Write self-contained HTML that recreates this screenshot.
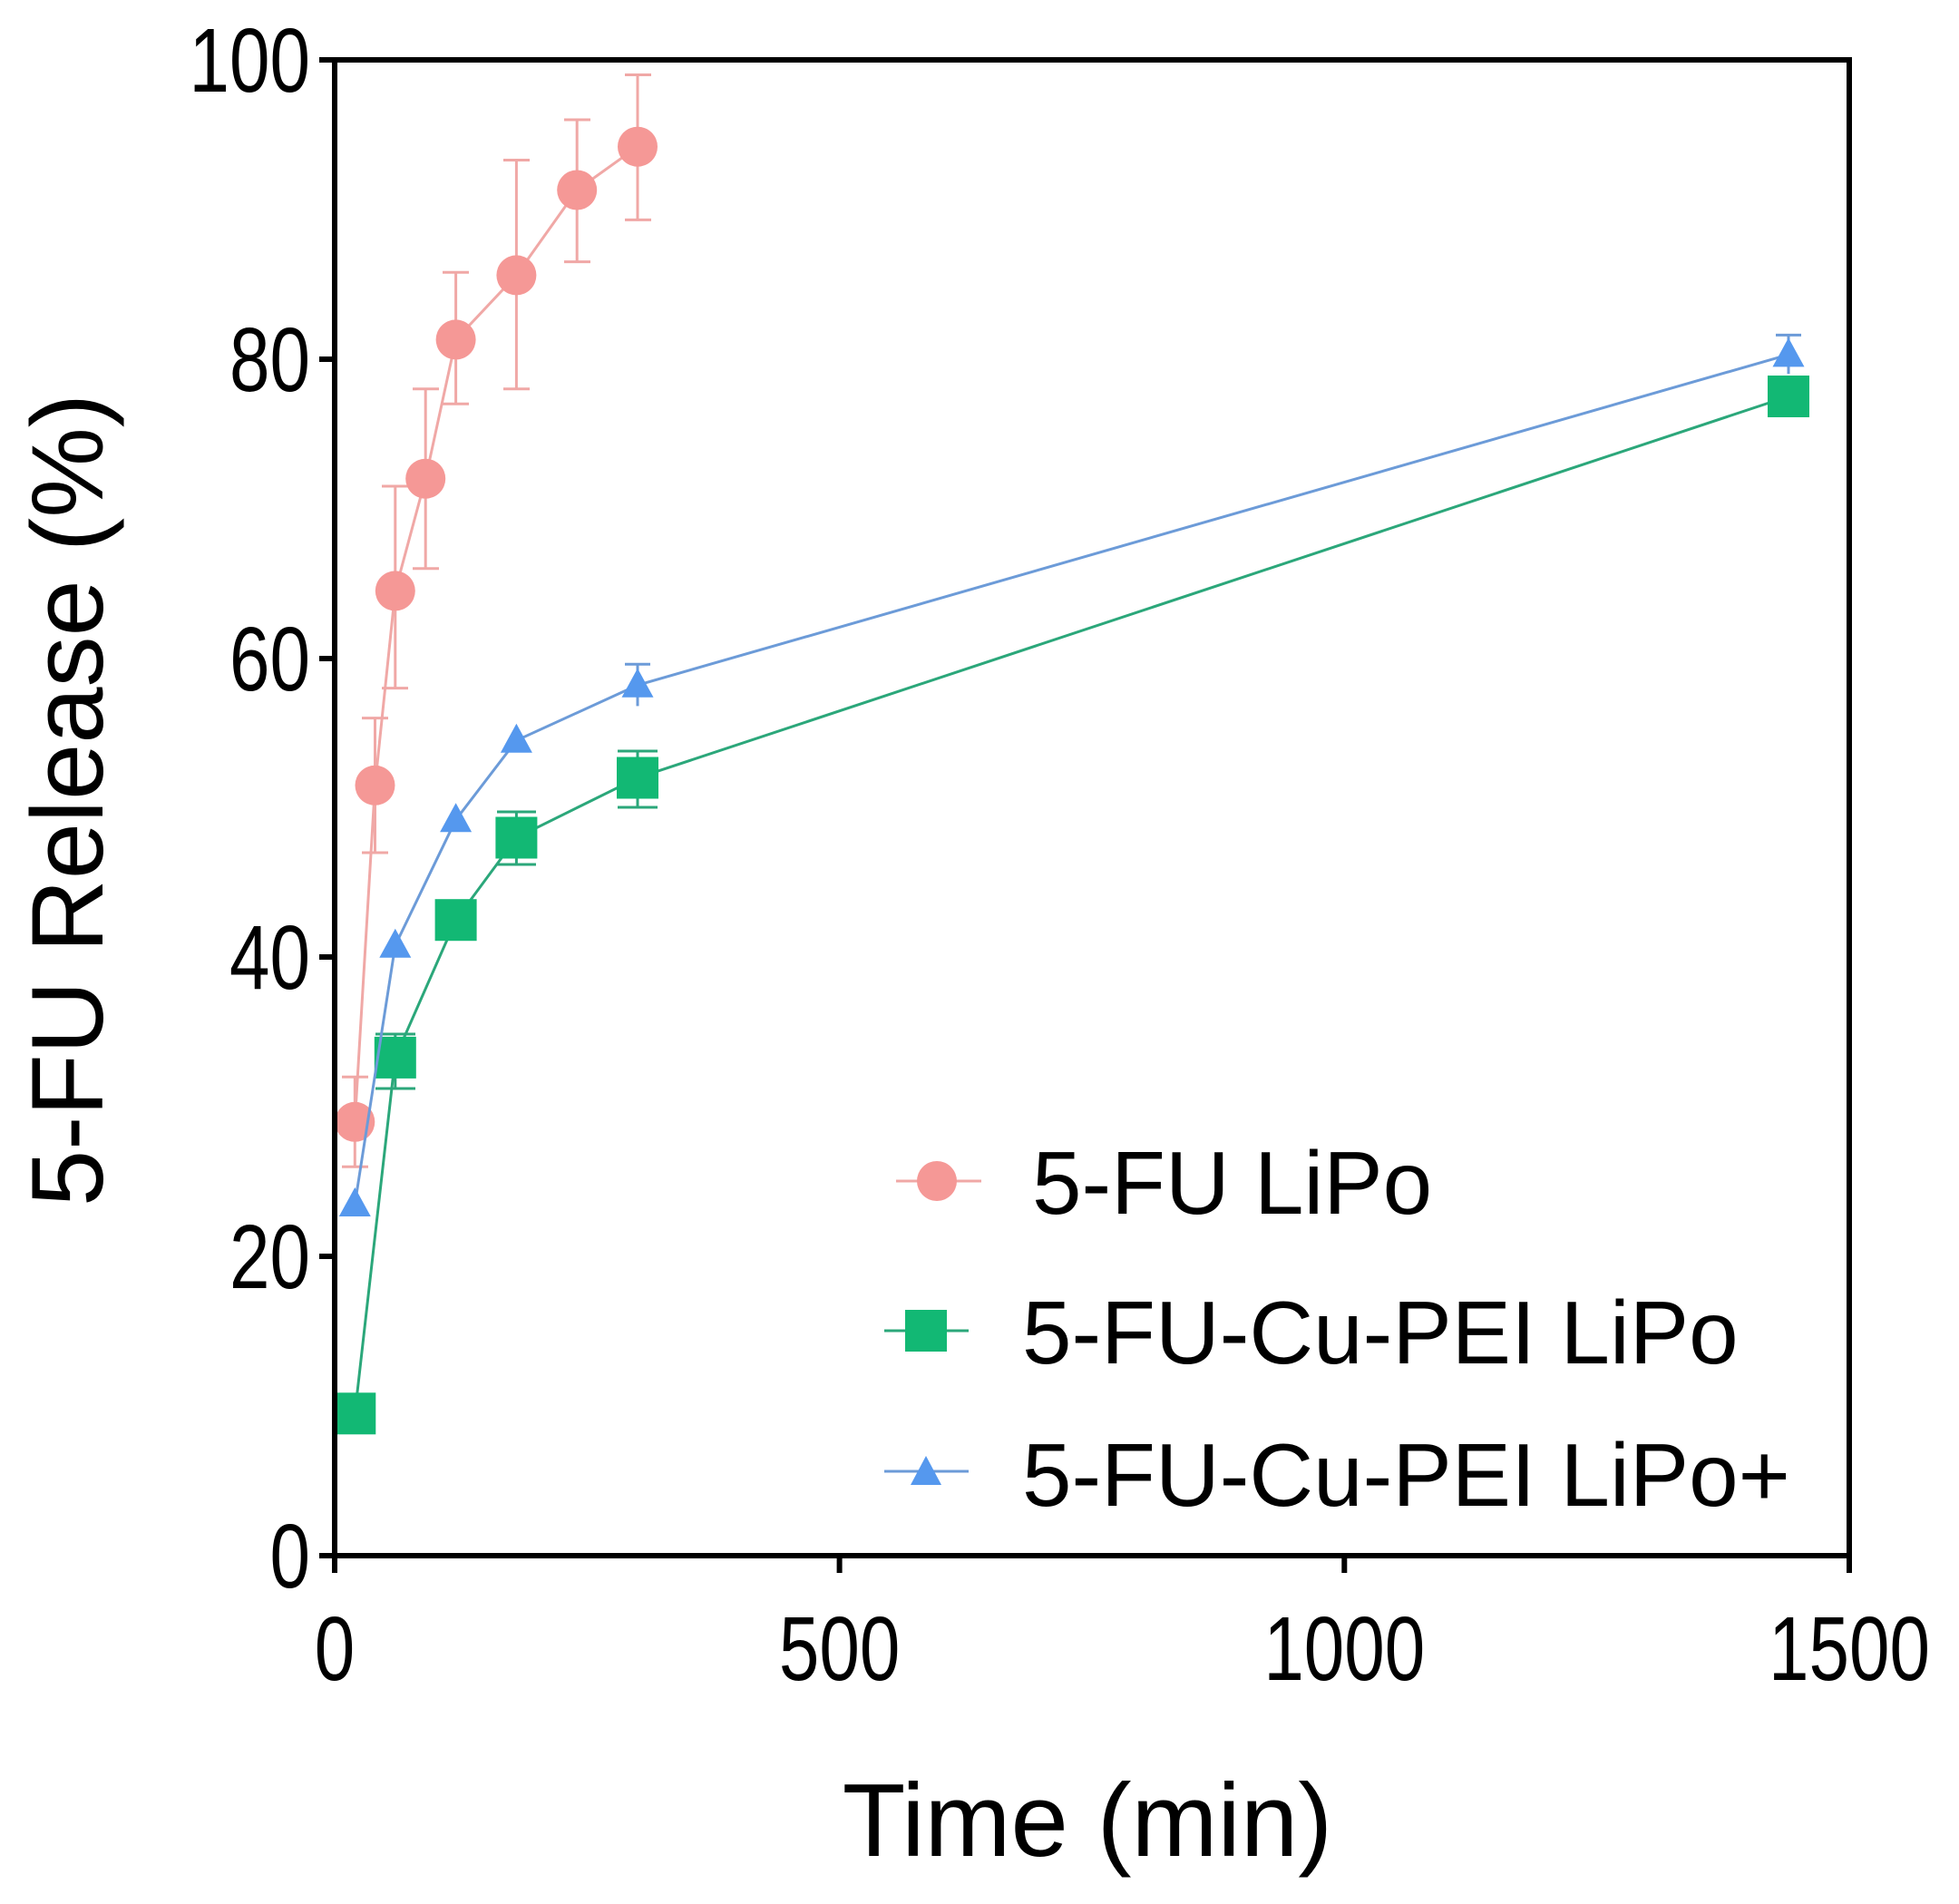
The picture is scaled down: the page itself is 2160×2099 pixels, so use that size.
<!DOCTYPE html>
<html><head><meta charset="utf-8"><style>
html,body{margin:0;padding:0;background:#fff}
svg{display:block}
text{font-family:"Liberation Sans",Arial,sans-serif;fill:#000}
</style></head><body>
<svg width="2160" height="2099" viewBox="0 0 2160 2099" xmlns="http://www.w3.org/2000/svg">
<!-- pink series -->
<g stroke="#F0A8A6" stroke-width="3" fill="none">
<polyline points="391.3,1236.8 413.5,865.8 435.8,651.4 469.2,527.7 502.6,374.4 569.4,303.4 636.2,209.5 703,161.7"/>
<path d="M391.3,1286.3V1187.3M377,1286.3H406M377,1187.3H406
M413.5,940V791.6M399,940H428M399,791.6H428
M435.8,758.6V536M421,758.6H450M421,536H450
M469.2,626.7V428.8M455,626.7H484M455,428.8H484
M502.6,445.3V300.2M488,445.3H517M488,300.2H517
M569.4,428.8V176.5M555,428.8H584M555,176.5H584
M636.2,288.6V132M622,288.6H651M622,132H651
M703,242.4V82.5M689,242.4H718M689,82.5H718"/>
</g>
<g fill="#F59896">
<circle cx="391.3" cy="1236.8" r="22"/><circle cx="413.5" cy="865.8" r="22"/><circle cx="435.8" cy="651.4" r="22"/><circle cx="469.2" cy="527.7" r="22"/><circle cx="502.6" cy="374.4" r="22"/><circle cx="569.4" cy="303.4" r="22"/><circle cx="636.2" cy="209.5" r="22"/><circle cx="703" cy="161.7" r="22"/>
</g>
<!-- green series -->
<g stroke="#2BA77A" stroke-width="3" fill="none">
<polyline points="391.3,1558.3 435.8,1165.9 502.6,1014.2 569.4,923.5 703,857.5 1972,437"/>
<path d="M435.8,1140V1200M414,1140H458M414,1200H458
M569.4,895V953M548,895H591M548,953H591
M703,828V890M681,828H725M681,890H725"/>
</g>
<g fill="#12B874">
<rect x="368.3" y="1535.3" width="46" height="46"/><rect x="412.8" y="1142.9" width="46" height="46"/><rect x="479.6" y="991.2" width="46" height="46"/><rect x="546.4" y="900.5" width="46" height="46"/><rect x="680" y="834.5" width="46" height="46"/><rect x="1949" y="414" width="46" height="46"/>
</g>
<!-- blue series -->
<g stroke="#6C9BD8" stroke-width="3" fill="none">
<polyline points="391.3,1327.5 435.8,1042.2 502.6,903.7 569.4,816.3 703,755.3 1972,390.9"/>
<path d="M703,778.4V732.2M689,732.2H717M1972,412.3V369.4M1958,369.4H1986"/>
</g>
<g fill="#5598EE">
<polygon points="391.3,1309 373.8,1341 408.8,1341"/><polygon points="435.8,1023.7 418.3,1055.7 453.3,1055.7"/><polygon points="502.6,885.2 485.1,917.2 520.1,917.2"/><polygon points="569.4,797.8 551.9,829.8 586.9,829.8"/><polygon points="703,736.8 685.5,768.8 720.5,768.8"/><polygon points="1972,372.4 1954.5,404.4 1989.5,404.4"/>
</g>
<!-- axes -->
<g stroke="#000" stroke-width="6" fill="none">
<path d="M369,63V1718M366,66H2039M366,1715H2042M2039,63V1718"/>
<path d="M352,66H369M352,396H369M352,726H369M352,1055H369M352,1385H369M352,1715H369"/>
<path d="M369,1715V1734M925.6,1715V1734M1482.3,1715V1734M2039,1715V1734"/>
</g>
<g font-size="100" text-anchor="end">
<text transform="translate(342,101) scale(0.8,1)">100</text>
<text transform="translate(342,431) scale(0.8,1)">80</text>
<text transform="translate(342,761) scale(0.8,1)">60</text>
<text transform="translate(342,1090) scale(0.8,1)">40</text>
<text transform="translate(342,1420) scale(0.8,1)">20</text>
<text transform="translate(342,1750) scale(0.8,1)">0</text>
</g>
<g font-size="100" text-anchor="middle">
<text transform="translate(369,1852) scale(0.8,1)">0</text>
<text transform="translate(925.6,1852) scale(0.8,1)">500</text>
<text transform="translate(1482.3,1852) scale(0.8,1)">1000</text>
<text transform="translate(2039,1852) scale(0.8,1)">1500</text>
</g>
<text x="1199" y="2046" font-size="114" text-anchor="middle">Time (min)</text>
<text transform="translate(113,882) rotate(-90)" font-size="112" text-anchor="middle">5-FU Release (%)</text>
<!-- legend -->
<g stroke-width="3">
<line x1="988" y1="1302" x2="1082" y2="1302" stroke="#F0A8A6"/>
<line x1="975" y1="1467" x2="1068" y2="1467" stroke="#2BA77A"/>
<line x1="975" y1="1622" x2="1068" y2="1622" stroke="#6C9BD8"/>
</g>
<circle cx="1033" cy="1302" r="22" fill="#F59896"/>
<rect x="998" y="1444" width="46" height="46" fill="#12B874"/>
<polygon points="1021,1605 1004,1637 1038,1637" fill="#5598EE"/>
<g font-size="98">
<text x="1138" y="1338">5-FU LiPo</text>
<text x="1127" y="1503">5-FU-Cu-PEI LiPo</text>
<text x="1127" y="1660">5-FU-Cu-PEI LiPo+</text>
</g>
</svg>
</body></html>
